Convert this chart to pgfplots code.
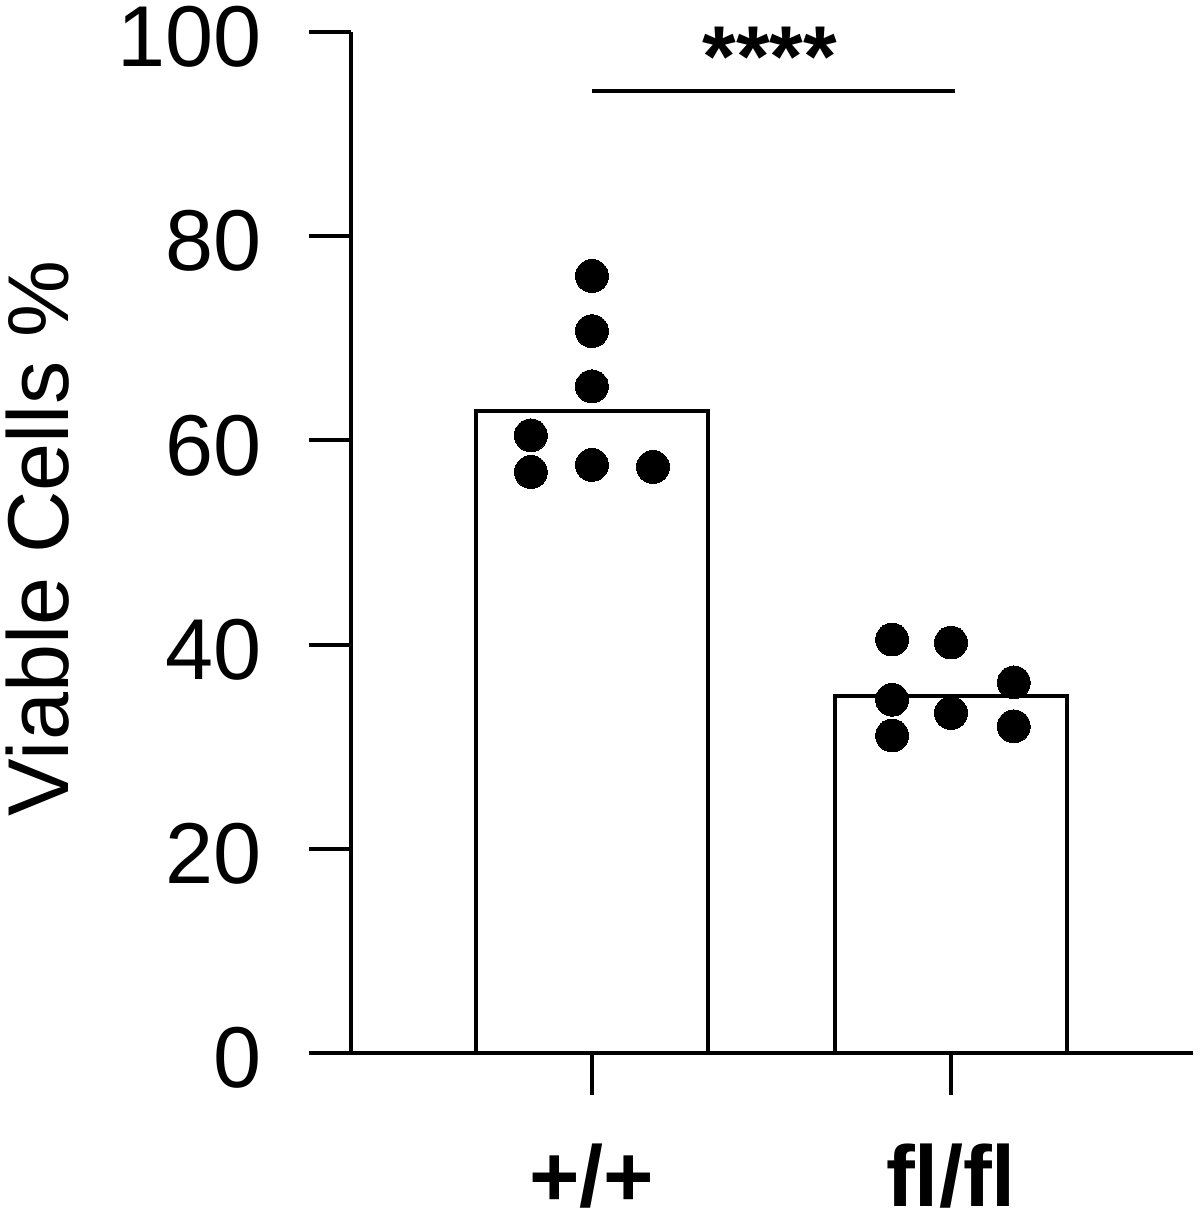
\documentclass[border=0pt]{standalone}
\usepackage{fontspec}
\setmainfont{Liberation Sans}
\usepackage{pgfplots}
\pgfplotsset{compat=1.18}
\newcommand{\bigf}{\fontsize{21.6}{26}\selectfont}
\begin{document}
\begin{tikzpicture}
\useasboundingbox (-87.75pt,-40pt) rectangle (212.25pt,263.25pt);
\begin{axis}[
  at={(0pt,0pt)}, anchor=south west,
  scale only axis, width=210.5pt, height=255.25pt,
  xmin=-0.671, xmax=1.674, ymin=0, ymax=100,
  axis lines=left, axis line style={-, line width=1pt},
  clip=false,
  xtick={0,1}, xticklabels={+/+, f\kern0pt l/f\kern0pt l},
  ytick={0,20,40,60,80,100},
  tick align=outside, major tick length=10.5pt,
  tick style={line width=1pt, black},
  /pgf/number format/assume math mode=true,
  yticklabel style={font=\bigf, inner sep=0pt, anchor=east, xshift=-11.75pt, yshift=-1.25pt},
  xticklabel style={font=\bigf\bfseries, inner sep=0pt, anchor=base, yshift=-27.9pt},
  ylabel={Viable Cells \%},
  every axis y label/.style={at={(axis description cs:-0.3724,0.504)}, rotate=90, anchor=center, font=\bigf},
]
\addplot[ybar, bar width=0.646, fill=white, draw=black, line width=1pt] coordinates {(0,62.9) (1,35.0)};
\addplot[only marks, mark=*, mark size=4.1pt, mark options={fill=black, draw=black, line width=0pt}] coordinates {
(0,76.1) (0,70.7) (0,65.3) (-0.17,60.5) (-0.17,56.9) (0,57.6) (0.17,57.4)
(0.836,40.5) (1.0,40.2) (0.836,34.6) (0.836,31.1) (1.0,33.3) (1.175,36.3) (1.175,32.0)
};
\draw[line width=1pt] (axis cs:0,94.2) -- (axis cs:1.01,94.2);
\node[anchor=base, font=\bigf\bfseries, inner sep=0pt, yshift=1.25pt] at (axis cs:0.496,94.2) {****};
\end{axis}
\end{tikzpicture}
\end{document}
